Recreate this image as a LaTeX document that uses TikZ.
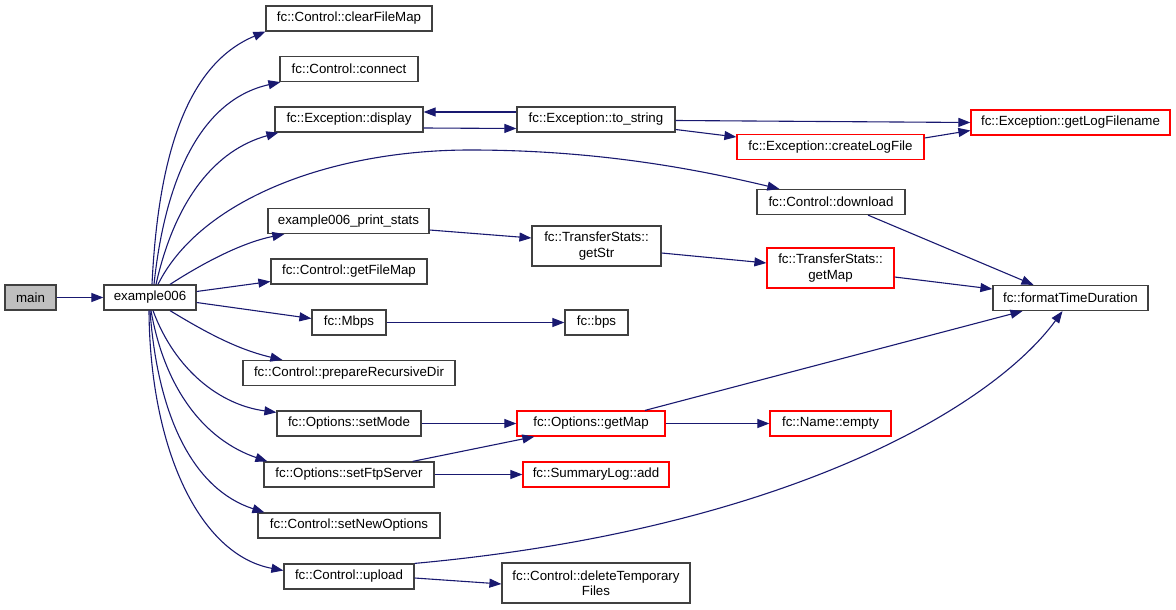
\documentclass[tikz,border=0pt]{standalone}
\usepackage{fontspec}
\setmainfont{Liberation Sans}
\usetikzlibrary{arrows.meta}
\definecolor{edgeblue}{RGB}{25,25,112}
\definecolor{boxline}{RGB}{64,64,64}
\definecolor{boxred}{RGB}{255,0,0}
\begin{document}
\begin{tikzpicture}[x=1pt,y=-1pt,
  box/.style={draw=boxline,line width=1.2pt,fill=white,inner sep=0pt,align=center,
    font=\fontsize{13.3}{15.5}\selectfont},
  redbox/.style={box,draw=boxred},
  mainbox/.style={box,fill=black!25},
  call/.style={draw=edgeblue,line width=1.1pt,
    arrows={-{Triangle[length=12pt,width=9pt,fill=edgeblue,color=edgeblue]}}}
]
\useasboundingbox (0,0) rectangle (1176,610);

\node[mainbox,minimum width=51pt,minimum height=25pt] (main) at (30.5,297.5) {main};
\node[box,minimum width=92pt,minimum height=25pt] (ex) at (150,297.5) {example006};
\node[box,minimum width=166pt,minimum height=25pt] (clear) at (349,18.5) {fc::Control::clearFileMap};
\node[box,minimum width=138pt,minimum height=25pt] (connect) at (349,69) {fc::Control::connect};
\node[box,minimum width=148pt,minimum height=25pt] (display) at (349,119.5) {fc::Exception::display};
\node[box,minimum width=158pt,minimum height=25pt] (tostr) at (596,119.5) {fc::Exception::to\_string};
\node[redbox,minimum width=199pt,minimum height=25pt] (getlog) at (1070.5,122.5) {fc::Exception::getLogFilename};
\node[redbox,minimum width=187pt,minimum height=25pt] (create) at (830.5,147) {fc::Exception::createLogFile};
\node[box,minimum width=148pt,minimum height=25pt] (download) at (831,202) {fc::Control::download};
\node[box,minimum width=161pt,minimum height=25pt] (pstats) at (348.5,221) {example006\_print\_stats};
\node[box,minimum width=129pt,minimum height=40pt] (getstr) at (596.5,246) {fc::TransferStats::\\getStr};
\node[redbox,minimum width=127pt,minimum height=40pt] (tsmap) at (830.5,268) {fc::TransferStats::\\getMap};
\node[box,minimum width=156pt,minimum height=25pt] (getfm) at (349,271.5) {fc::Control::getFileMap};
\node[box,minimum width=155pt,minimum height=25pt] (ftd) at (1070.5,298) {fc::formatTimeDuration};
\node[box,minimum width=74pt,minimum height=25pt] (mbps) at (349,322.5) {fc::Mbps};
\node[box,minimum width=63pt,minimum height=25pt] (bps) at (596.5,322.5) {fc::bps};
\node[box,minimum width=212pt,minimum height=25pt] (prep) at (349,373) {fc::Control::prepareRecursiveDir};
\node[box,minimum width=144pt,minimum height=25pt] (setmode) at (349,423.5) {fc::Options::setMode};
\node[redbox,minimum width=148pt,minimum height=25pt] (ogm) at (591,423.5) {fc::Options::getMap};
\node[redbox,minimum width=121pt,minimum height=25pt] (empty) at (830.5,423.5) {fc::Name::empty};
\node[box,minimum width=170pt,minimum height=25pt] (setftp) at (349,474.5) {fc::Options::setFtpServer};
\node[redbox,minimum width=146pt,minimum height=25pt] (add) at (596,474.5) {fc::SummaryLog::add};
\node[box,minimum width=182pt,minimum height=25pt] (setnew) at (349,525.5) {fc::Control::setNewOptions};
\node[box,minimum width=130pt,minimum height=25pt] (upload) at (349,576.5) {fc::Control::upload};
\node[box,minimum width=188pt,minimum height=40pt] (deltmp) at (596,583) {fc::Control::deleteTemporary\\Files};

% main -> example006
\draw[call] (main.east) -- (ex.west);

% example006 fan-out (upwards)
\draw[call] ([xshift=2pt]ex.north) .. controls (158,160) and (185,65) .. (clear.south west);
\draw[call] ([xshift=4pt]ex.north) .. controls (165,180) and (200,100) .. ([xshift=1pt]connect.south west);
\draw[call] ([xshift=6pt]ex.north) .. controls (175,200) and (215,150) .. ([xshift=4pt]display.south west);
\draw[call] ([xshift=8pt]ex.north) .. controls (200,200) and (330,150) .. (470,150)
   .. controls (600,150) and (700,170) .. ([xshift=23pt]download.north west);
\draw[call] ([xshift=20pt]ex.north) .. controls (200,265) and (240,243) .. ([xshift=17pt]pstats.south west);
\draw[call] ([yshift=6pt]ex.east) -- ([yshift=-10pt]getfm.west);
\draw[call] ([yshift=-5pt]ex.east) -- ([yshift=4pt]mbps.west);

% example006 fan-out (downwards)
\draw[call] ([xshift=20pt]ex.south) .. controls (210,335) and (240,350) .. ([xshift=40pt]prep.north west);
\draw[call] ([xshift=3pt]ex.south) .. controls (175,370) and (220,405) .. ([yshift=-2pt]setmode.north west);
\draw[call] ([xshift=1pt]ex.south) .. controls (165,390) and (205,440) .. ([xshift=4pt]setftp.north west);
\draw[call] (ex.south) .. controls (158,420) and (195,490) .. ([xshift=7pt]setnew.north west);
\draw[call] ([xshift=-1pt]ex.south) .. controls (150,450) and (200,555) .. ([yshift=6pt]upload.west);

% exception cluster
\draw[call] ([yshift=7.5pt]tostr.west) -- ([yshift=7.5pt]display.east);
\draw[call] ([yshift=-8.5pt]display.east) -- ([yshift=-9pt]tostr.west);
\draw[call] ([yshift=-1pt]tostr.east) -- (getlog.west);
\draw[call] ([yshift=-10pt]tostr.east) -- ([yshift=10pt]create.west);
\draw[call] ([yshift=9pt]create.east) -- ([yshift=-8pt]getlog.west);

% download / stats
\draw[call] ([xshift=37pt]download.south) -- ([xshift=-37pt]ftd.north);
\draw[call] ([yshift=-9pt]pstats.east) -- ([yshift=8pt]getstr.west);
\draw[call] ([yshift=-7pt]getstr.east) -- ([yshift=5pt]tsmap.west);
\draw[call] ([yshift=-9pt]tsmap.east) -- ([yshift=9pt]ftd.west);
\draw[call] (mbps.east) -- (bps.west);

% options
\draw[call] ([xshift=54pt]ogm.north) -- ([xshift=-48pt]ftd.south);
\draw[call] (setmode.east) -- (ogm.west);
\draw[call] (ogm.east) -- (empty.west);
\draw[call] ([xshift=-22pt]setftp.north east) -- ([xshift=18pt]ogm.south west);
\draw[call] (setftp.east) -- (add.west);

% upload
\draw[call] (upload.north east) .. controls (780,530) and (990,410) .. ([xshift=-8pt]ftd.south);
\draw[call] ([yshift=-1.5pt]upload.east) -- ([yshift=-1pt]deltmp.west);
\end{tikzpicture}
\end{document}
